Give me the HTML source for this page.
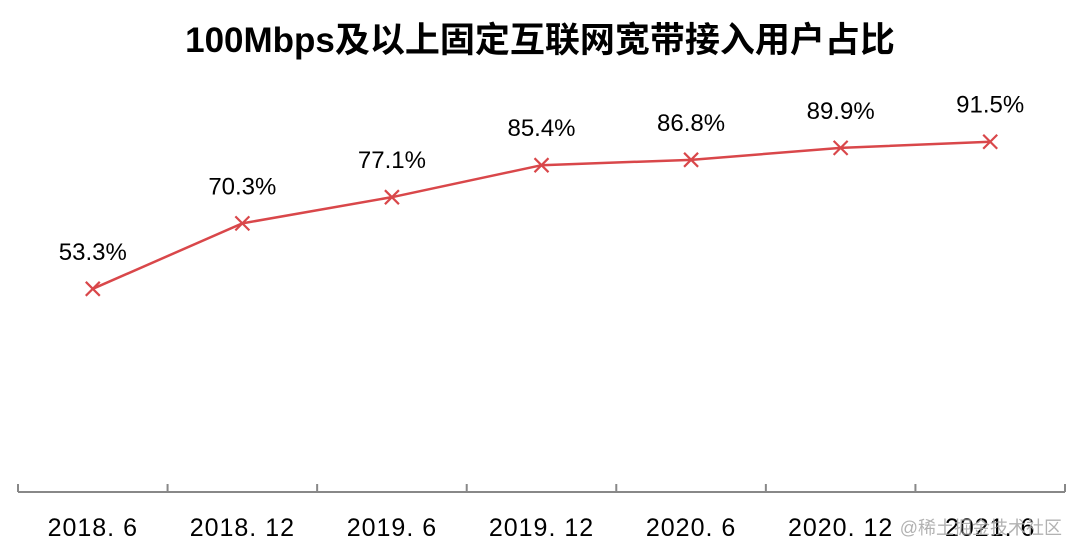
<!DOCTYPE html>
<html><head><meta charset="utf-8"><style>
body{margin:0;background:#fff;}
svg{display:block;}
</style></head><body>
<svg width="1080" height="558" xmlns="http://www.w3.org/2000/svg">
<text x="540" y="52" text-anchor="middle" font-family="'Liberation Sans','Noto Sans CJK SC',sans-serif" font-size="35" font-weight="bold" fill="#000">100Mbps及以上固定互联网宽带接入用户占比</text>
<g id="axis"></g>
<g id="marks"></g>
<text x="1062" y="534" text-anchor="end" font-family="'Liberation Sans','Noto Sans CJK SC',sans-serif" font-size="18" fill="#aaa" opacity="0.9">@稀土掘金技术社区</text>
</svg>
<script>
const categories=["2018. 6","2018. 12","2019. 6","2019. 12","2020. 6","2020. 12","2021. 6"];
const values=[53.3,70.3,77.1,85.4,86.8,89.9,91.5];
const labels=["53.3%","70.3%","77.1%","85.4%","86.8%","89.9%","91.5%"];
const NS="http://www.w3.org/2000/svg";
const x0=18,x1=1065,axisY=492,zeroY=494;
const step=(x1-x0)/categories.length;
function xs(i){return x0+step*(i+0.5);}
function ys(v){return zeroY-v*3.85;}
function mk(tag,attrs,parent){const e=document.createElementNS(NS,tag);for(const k in attrs)e.setAttribute(k,attrs[k]);parent.appendChild(e);return e;}
const ax=document.getElementById('axis'),mg=document.getElementById('marks');
const al=mk('line',{x1:x0,y1:axisY,x2:x1,y2:axisY,stroke:'#888','stroke-width':2},ax);


for(let i=0;i<=categories.length;i++){
 const t=mk('line',{x1:x0+step*i,y1:axisY-8,x2:x0+step*i,y2:axisY,stroke:'#888','stroke-width':2},ax);
 
 
}
categories.forEach((c,i)=>{
 const t=mk('text',{x:xs(i),y:536,'text-anchor':'middle','font-family':"'Liberation Sans',sans-serif",'font-size':25,'letter-spacing':1,fill:'#000'},ax);
 t.textContent=c;
 
 
});
const pts=values.map((v,i)=>xs(i)+','+ys(v)).join(' ');
const pl=mk('polyline',{points:pts,fill:'none',stroke:'#d9474a','stroke-width':2.5},mg);


values.forEach((v,i)=>{
 const x=xs(i),y=ys(v),d=7;
 const m=mk('path',{d:`M${x-d},${y-d}L${x+d},${y+d}M${x-d},${y+d}L${x+d},${y-d}`,stroke:'#d9474a','stroke-width':2.2,fill:'none'},mg);
 
 
 const t=mk('text',{x:x,y:y-29,'text-anchor':'middle','font-family':"'Liberation Sans',sans-serif",'font-size':24,fill:'#000'},mg);
 t.textContent=labels[i];
 
 
});
</script>
</body></html>
